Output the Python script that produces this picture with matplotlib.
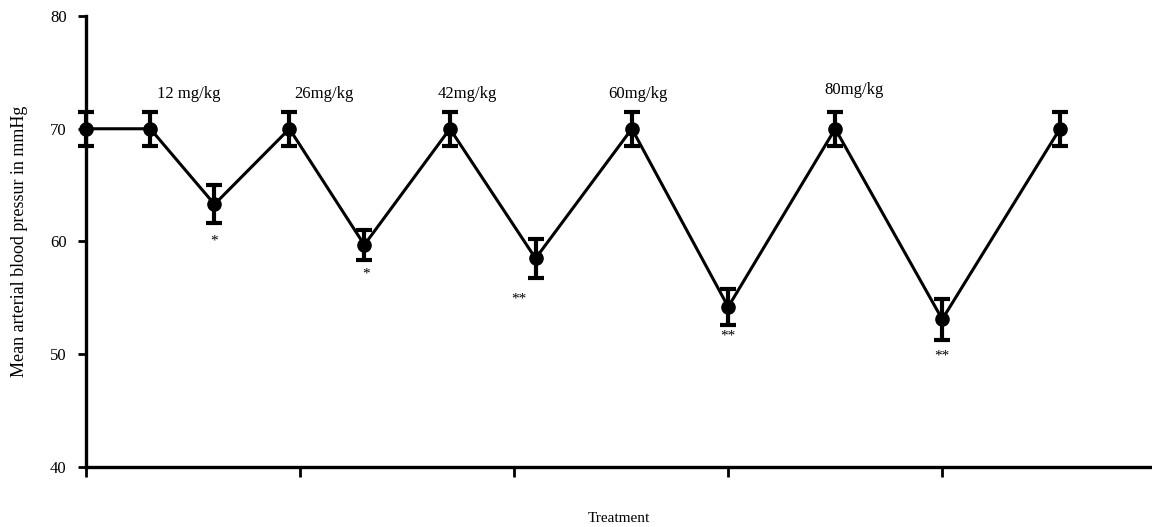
import numpy as np
import matplotlib
matplotlib.use("Agg")
import matplotlib.pyplot as plt

plt.rcParams['font.family'] = ['Liberation Serif', 'DejaVu Serif']

# treatment sequence: baseline / dose / recovery, positions on the treatment axis
treat_x = [0.0, 0.30, 0.60, 0.95, 1.30, 1.70, 2.10, 2.55, 3.00, 3.50, 4.00, 4.55]
map_mean = [70.0, 70.0, 63.3, 70.0, 59.7, 70.0, 58.5, 70.0, 54.2, 70.0, 53.1, 70.0]
map_err = [1.5, 1.5, 1.7, 1.5, 1.3, 1.5, 1.7, 1.5, 1.6, 1.5, 1.8, 1.5]

dose_labels = ['12 mg/kg', '26mg/kg', '42mg/kg', '60mg/kg', '80mg/kg']
dose_x = [0.48, 1.11, 1.78, 2.58, 3.59]
dose_y = [72.4, 72.4, 72.4, 72.4, 72.7]

sig_labels = ['*', '*', '**', '**', '**']
sig_x = [0.60, 1.31, 2.02, 3.00, 4.00]
sig_y = [60.0, 57.1, 54.9, 51.6, 49.8]

yticks = [40, 50, 60, 70, 80]

fig = plt.figure(figsize=(11.52, 5.27), dpi=100)
ax = fig.add_axes([0.0747, 0.1139, 0.9253, 0.8557])

ax.errorbar(treat_x, map_mean, yerr=map_err, color='black', lw=2.2,
            marker='o', markersize=9.5, elinewidth=3, capsize=6, capthick=3,
            zorder=3, clip_on=False)

for lab, x, y in zip(dose_labels, dose_x, dose_y):
    ax.text(x, y, lab, ha='center', va='bottom', fontsize=12)
for lab, x, y in zip(sig_labels, sig_x, sig_y):
    ax.text(x, y, lab, ha='center', va='center', fontsize=11)

ax.set_xlim(0, 4.98)
ax.set_ylim(40, 80)
ax.set_xticks([0, 1, 2, 3, 4])
ax.set_xticklabels([])
ax.set_yticks(yticks)
ax.set_yticklabels([str(t) for t in yticks], fontsize=12)

for side in ['top', 'right']:
    ax.spines[side].set_visible(False)
for side in ['left', 'bottom']:
    ax.spines[side].set_linewidth(2.4)
ax.tick_params(axis='both', width=2, direction='out')
ax.tick_params(axis='x', length=7)
ax.tick_params(axis='y', length=6, pad=8)

ax.set_xlabel('Treatment', fontsize=11, labelpad=22)
ax.set_ylabel('Mean arterial blood pressur in mmHg', fontsize=13, labelpad=16)

fig.savefig('out.png', dpi=100)
